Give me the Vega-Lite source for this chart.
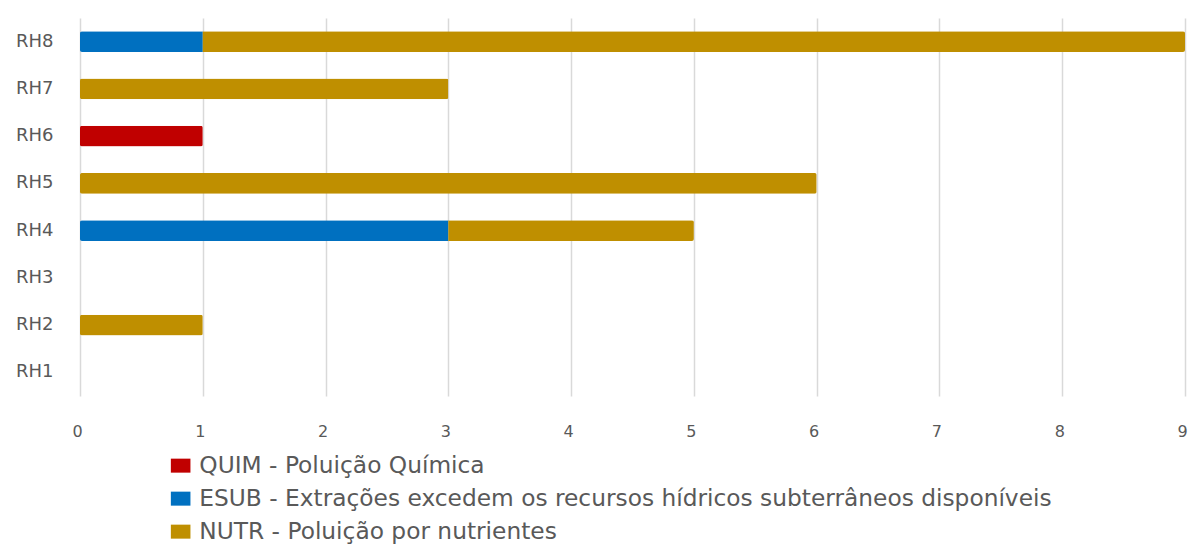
{
  "$schema": "https://vega.github.io/schema/vega-lite/v6.json",
  "width": 1105,
  "height": 378,
  "autosize": {"type": "none"},
  "padding": {"left": 80, "top": 18, "right": 3, "bottom": 157},
  "background": "white",
  "config": {"view": {"stroke": null}, "font": "DejaVu Sans"},
  "data": {"values": [
    {"regiao": "RH8", "pressao": "ESUB - Extrações excedem os recursos hídricos subterrâneos disponíveis", "ordem": 1, "valor": 1},
    {"regiao": "RH8", "pressao": "NUTR - Poluição por nutrientes", "ordem": 2, "valor": 8},
    {"regiao": "RH7", "pressao": "NUTR - Poluição por nutrientes", "ordem": 2, "valor": 3},
    {"regiao": "RH6", "pressao": "QUIM - Poluição Química", "ordem": 0, "valor": 1},
    {"regiao": "RH5", "pressao": "NUTR - Poluição por nutrientes", "ordem": 2, "valor": 6},
    {"regiao": "RH4", "pressao": "ESUB - Extrações excedem os recursos hídricos subterrâneos disponíveis", "ordem": 1, "valor": 3},
    {"regiao": "RH4", "pressao": "NUTR - Poluição por nutrientes", "ordem": 2, "valor": 2},
    {"regiao": "RH2", "pressao": "NUTR - Poluição por nutrientes", "ordem": 2, "valor": 1}
  ]},
  "mark": {"type": "bar", "cornerRadius": 2},
  "encoding": {
    "y": {
      "field": "regiao", "type": "nominal",
      "scale": {"domain": ["RH8", "RH7", "RH6", "RH5", "RH4", "RH3", "RH2", "RH1"], "paddingInner": 0.56, "paddingOuter": 0.28},
      "axis": {"title": null, "domain": false, "ticks": false, "labelPadding": 27, "labelFontSize": 18, "labelColor": "#595959", "labelFont": "DejaVu Sans"}
    },
    "x": {
      "field": "valor", "type": "quantitative", "stack": "zero",
      "scale": {"domain": [0, 9], "nice": false},
      "axis": {"title": null, "domain": false, "ticks": false, "values": [0,1,2,3,4,5,6,7,8,9], "labelFlush": false, "labelPadding": 27, "labelOffset": -3, "labelFontSize": 16, "labelColor": "#595959", "gridColor": "#d9d9d9", "gridWidth": 1.5, "labelFont": "DejaVu Sans"}
    },
    "order": {"field": "ordem", "type": "quantitative"},
    "color": {
      "field": "pressao", "type": "nominal",
      "scale": {
        "domain": ["QUIM - Poluição Química", "ESUB - Extrações excedem os recursos hídricos subterrâneos disponíveis", "NUTR - Poluição por nutrientes"],
        "range": ["#C00000", "#0070C0", "#BF8F00"]
      },
      "legend": {
        "title": null, "orient": "none", "legendX": 89, "legendY": 436,
        "symbolType": "M-1.4,-1H1.4V1H-1.4Z", "symbolSize": 196, "symbolStrokeWidth": 0,
        "labelFontSize": 23.3, "labelColor": "#595959", "labelFont": "DejaVu Sans",
        "rowPadding": 9, "labelOffset": 7, "labelLimit": 1000
      }
    }
  }
}
